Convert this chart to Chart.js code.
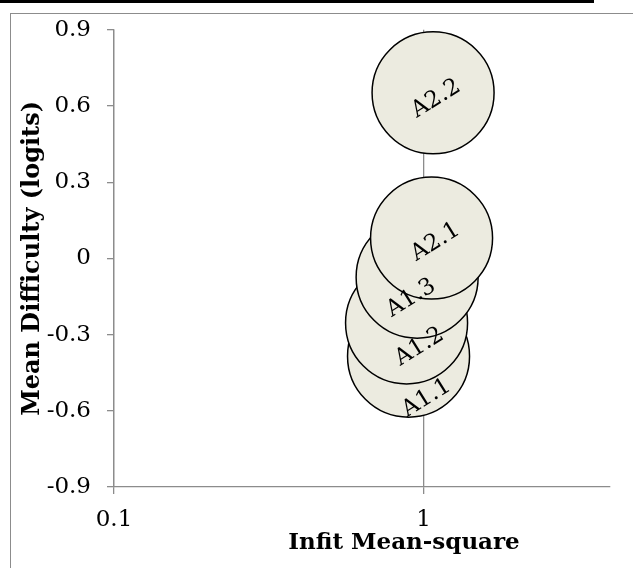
<!DOCTYPE html>
<html>
<head>
<meta charset="utf-8">
<script src="https://cdn.jsdelivr.net/npm/chart.js@4.4.1/dist/chart.umd.min.js"></script>
<style>
  body { margin: 0; background: #fff; }
  #topbar { position: absolute; left: 0; top: 0; width: 594px; height: 3px; background: #000; }
  #frame { position: absolute; left: 10px; top: 13px; width: 700px; height: 700px; border: 1px solid #8c8c8c; }
  #chart { position: absolute; left: 0; top: 0; }
</style>
</head>
<body>
<div id="topbar"></div>
<div id="frame"></div>
<canvas id="chart" width="633" height="568"></canvas>
<script>
const itemLabels = ['A1.1', 'A1.2', 'A1.3', 'A2.1', 'A2.2'];
const infitMnsq = [0.894, 0.881, 0.953, 1.061, 1.073];
const meanDifficulty = [-0.385, -0.254, -0.074, 0.08, 0.652];
const bubbleRadius = [61, 61, 61, 61, 61];
const xTickValues = [0.1, 1];
const yTickValues = [-0.9, -0.6, -0.3, 0, 0.3, 0.6, 0.9];

// some labels were dragged off-centre in the original, nudge them the same way (px)
const labelNudge = [[18, 42], [13, 24], [-6, 21], [4, 4], [3, 6]];

const serif = '"DejaVu Serif", "Liberation Serif", serif';
const axisGray = '#8c8c8c';

const bubbleLabels = {
    id: 'bubbleLabels',
    afterDatasetsDraw(chart) {
        const ctx = chart.ctx;
        const meta = chart.getDatasetMeta(0);
        ctx.save();
        ctx.font = '23px ' + serif;
        ctx.fillStyle = '#000';
        ctx.textAlign = 'center';
        ctx.textBaseline = 'middle';
        meta.data.forEach(function(pt, i) {
            ctx.save();
            ctx.translate(pt.x + labelNudge[i][0], pt.y + labelNudge[i][1]);
            ctx.rotate(-32 * Math.PI / 180);
            ctx.fillText(itemLabels[i], 0, 0);
            ctx.restore();
        });
        ctx.restore();
    }
};

// x title sits right of centre in the source, so draw it by hand
const xTitle = {
    id: 'xTitle',
    afterDraw(chart) {
        const ctx = chart.ctx;
        const area = chart.chartArea;
        ctx.save();
        ctx.font = 'bold 23px ' + serif;
        ctx.fillStyle = '#000';
        ctx.textAlign = 'center';
        ctx.textBaseline = 'middle';
        ctx.fillText('Infit Mean-square', 404, area.bottom + 56);
        ctx.restore();
    }
};

const points = infitMnsq.map(function(v, i) {
    return { x: v, y: meanDifficulty[i], r: bubbleRadius[i] };
});

new Chart(document.getElementById('chart'), {
    type: 'bubble',
    data: {
        datasets: [{
            label: 'Items',
            data: points,
            backgroundColor: '#ecebe0',
            borderColor: '#000',
            borderWidth: 1.5,
            hoverRadius: 0
        }]
    },
    options: {
        responsive: false,
        animation: false,
        layout: { autoPadding: false, padding: { left: 18, top: 27, right: 23, bottom: 0 } },
        plugins: {
            legend: { display: false },
            tooltip: { enabled: false }
        },
        scales: {
            x: {
                type: 'logarithmic',
                min: 0.1,
                max: 4,
                afterBuildTicks: function(scale) {
                    scale.ticks = xTickValues.map(function(v) { return { value: v }; });
                },
                afterFit: function(scale) { scale.height = 81; },
                ticks: {
                    color: '#000',
                    font: { family: serif, size: 23 },
                    padding: 12,
                    maxRotation: 0,
                    callback: function(v) { return String(v); }
                },
                grid: { color: axisGray, tickLength: 7, lineWidth: 1.3 },
                border: { color: axisGray, width: 1.3 }
            },
            y: {
                min: -0.9,
                max: 0.9,
                afterBuildTicks: function(scale) {
                    scale.ticks = yTickValues.map(function(v) { return { value: v }; });
                },
                afterFit: function(scale) { scale.width = 96; },
                ticks: {
                    color: '#000',
                    font: { family: serif, size: 23 },
                    padding: 16,
                    callback: function(v) { return v === 0 ? '0' : v.toFixed(1); }
                },
                title: {
                    display: true,
                    text: 'Mean Difficulty (logits)',
                    color: '#000',
                    font: { family: serif, size: 24, weight: 'bold' },
                    padding: { top: 0, bottom: 0 }
                },
                grid: { drawOnChartArea: false, color: axisGray, tickLength: 7, lineWidth: 1.3 },
                border: { color: axisGray, width: 1.3 }
            }
        }
    },
    plugins: [bubbleLabels, xTitle]
});
</script>
</body>
</html>
